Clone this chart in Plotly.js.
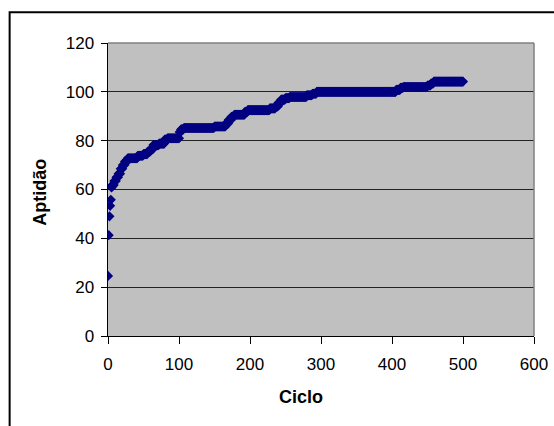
<!DOCTYPE html>
<html>
<head>
<meta charset="utf-8">
<script src="https://cdn.plot.ly/plotly-3.0.1.min.js"></script>
<style>
  html, body { margin: 0; padding: 0; background: #fff; }
  #chart { width: 554px; height: 426px; }
</style>
</head>
<body>
<div id="chart"></div>
<script>
// Best fitness per cycle, read from the picture as steps:
// each level holds from its start cycle until the next start cycle.
const stepStartCycle = [0, 1, 2, 3, 4, 5, 6, 9, 12, 15, 18, 21, 24, 28, 42, 50, 56, 60, 64, 72, 80, 84,
  101, 103, 107, 150, 166, 170, 174, 178, 193, 197, 228, 236, 240, 244, 250, 256, 280, 288, 294,
  406, 412, 416, 450, 455, 459];
const stepFitness = [24.6, 41.3, 49.0, 53.3, 55.8, 60.8, 61.8, 63.5, 65.0, 66.5, 68.5, 70.0, 71.5, 72.8, 73.8, 74.5, 75.5, 76.5, 78.2, 78.8, 80.5, 81.0,
  83.5, 84.6, 85.2, 85.8, 87.0, 88.5, 89.8, 90.6, 91.8, 92.5, 93.2, 94.0, 95.5, 96.8, 97.4, 97.9, 98.6, 99.2, 100.0,
  100.8, 101.6, 102.0, 102.6, 103.4, 104.2];
const lastCycle = 500;

const xTickVals = [0, 100, 200, 300, 400, 500, 600];
const yTickVals = [0, 20, 40, 60, 80, 100, 120];
const xTitle = 'Ciclo';
const yTitle = 'Aptidão';

// expand the step list into one value per cycle
const ciclo = [];
const aptidao = [];
for (let i = 0; i < stepStartCycle.length; i++) {
  const end = (i + 1 < stepStartCycle.length) ? stepStartCycle[i + 1] : lastCycle + 1;
  for (let c = stepStartCycle[i]; c < end; c++) {
    ciclo.push(c);
    aptidao.push(stepFitness[i]);
  }
}

const W = 554, H = 426;
const L = 108.3, R = 20, T = 43.3, B = 90.3;
const pw = W - L - R, ph = H - T - B;
const px = v => (v - L) / pw;
const py = v => (H - B - v) / ph;

const font = 'Liberation Sans, Arial, sans-serif';

const trace = {
  x: ciclo,
  y: aptidao,
  type: 'scatter',
  mode: 'markers',
  marker: { symbol: 'diamond', size: 7.8, color: '#000080', line: { width: 0 } },
  hoverinfo: 'x+y',
  showlegend: false
};

const layout = {
  width: W, height: H,
  margin: { l: L, r: R, t: T, b: B, pad: 0 },
  paper_bgcolor: '#ffffff',
  plot_bgcolor: '#c0c0c0',
  font: { family: font, size: 17, color: '#000' },
  showlegend: false,
  xaxis: {
    range: [0, 600],
    tickvals: xTickVals,
    ticks: 'outside', ticklen: 6.5, tickwidth: 1, tickcolor: '#000',
    ticklabelstandoff: 6,
    showline: true, linecolor: '#000', linewidth: 1,
    showgrid: false, zeroline: false,
    tickfont: { family: font, size: 17, color: '#000' },
    fixedrange: true
  },
  yaxis: {
    range: [0, 120],
    tickvals: yTickVals,
    ticks: 'outside', ticklen: 6.5, tickwidth: 1, tickcolor: '#000',
    ticklabelstandoff: 3,
    showline: true, linecolor: '#000', linewidth: 1,
    showgrid: true, gridcolor: '#222', gridwidth: 1,
    zeroline: false,
    tickfont: { family: font, size: 17, color: '#000' },
    fixedrange: true
  },
  shapes: [
    // plot-area border (top and right, grey)
    { type: 'line', xref: 'paper', yref: 'paper', x0: 0, x1: 1, y0: 1, y1: 1,
      line: { color: '#808080', width: 1.5 }, layer: 'above' },
    { type: 'line', xref: 'paper', yref: 'paper', x0: 1, x1: 1, y0: 0, y1: 1,
      line: { color: '#808080', width: 1.5 }, layer: 'above' },
    // outer chart frame
    { type: 'rect', xref: 'paper', yref: 'paper',
      x0: px(10), x1: px(556), y0: py(432), y1: py(12.7),
      line: { color: '#000', width: 2 }, fillcolor: 'rgba(0,0,0,0)', layer: 'above' }
  ],
  annotations: [
    { text: '<b>' + xTitle + '</b>', xref: 'paper', yref: 'paper',
      x: px(301.6), y: py(397), xanchor: 'center', yanchor: 'middle',
      showarrow: false, font: { family: font, size: 18, color: '#000' } },
    { text: '<b>' + yTitle + '</b>', xref: 'paper', yref: 'paper',
      x: px(40), y: py(192), xanchor: 'center', yanchor: 'middle', textangle: -90,
      showarrow: false, font: { family: font, size: 18, color: '#000' } }
  ]
};

Plotly.newPlot('chart', [trace], layout, { displayModeBar: false, staticPlot: true });
</script>
</body>
</html>
